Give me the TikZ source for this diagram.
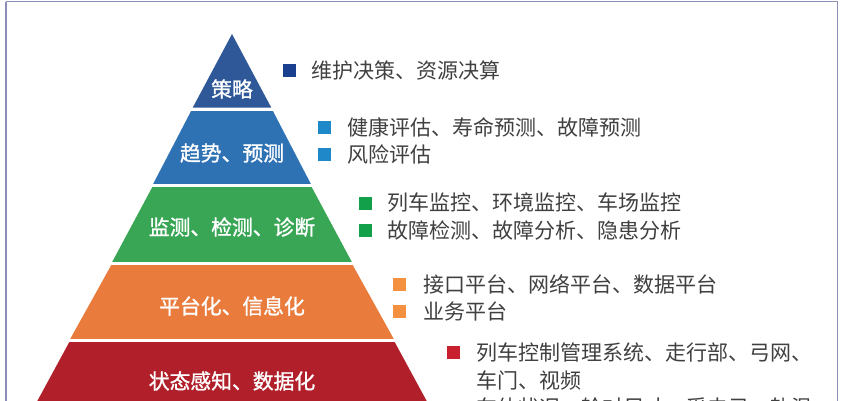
\documentclass[tikz,border=0pt]{standalone}
\usepackage{fontspec}
\newfontfamily\cjk{Noto Sans CJK SC}
\newfontfamily\cjkb{Noto Sans CJK SC}[FakeBold=1.2]
\definecolor{frame}{HTML}{8A90B8}
\definecolor{lay1}{HTML}{2E5897}
\definecolor{lay2}{HTML}{2F72B4}
\definecolor{lay3}{HTML}{39A655}
\definecolor{lay4}{HTML}{E97B3D}
\definecolor{lay5}{HTML}{B01F2A}
\definecolor{bul1}{HTML}{1B3F8F}
\definecolor{bul2}{HTML}{1E88C9}
\definecolor{bul3}{HTML}{12A04B}
\definecolor{bul4}{HTML}{F39140}
\definecolor{bul5}{HTML}{C8202E}
\definecolor{txt}{HTML}{404040}
\tikzset{
  lab/.style={text=white,font=\cjkb\fontsize{20.8}{23}\selectfont,inner sep=0pt},
  item/.style={text=txt,font=\cjk\fontsize{21}{29}\selectfont,anchor=west,inner sep=0pt},
  bullet/.style={minimum size=13pt,inner sep=0pt,fill=#1,draw=none},
  sep/.style={white,line width=3pt}
}
\begin{document}
\begin{tikzpicture}[x=1pt,y=-1pt]
\useasboundingbox (0,0) rectangle (848,400);
\clip (0,0) rectangle (848,400);
\fill[white] (0,0) rectangle (848,400);
\draw[frame,line width=1.6pt] (6,1.5) -- (837.5,1.5) -- (837.5,450);
\draw[frame,line width=1.6pt] (6,1.5) -- (6,450);
% pyramid layers (half width = 0.533*(y-34))
\fill[lay1] (232,34) -- (271.2,107.5) -- (192.8,107.5) -- cycle;
\fill[lay2] (192.4,108.5) -- (271.6,108.5) -- (311.0,184.2) -- (153.0,184.2) -- cycle;
\fill[lay3] (152.6,186.5) -- (311.4,186.5) -- (352.0,262.3) -- (112.0,262.3) -- cycle;
\fill[lay4] (111.6,264.5) -- (352.4,264.5) -- (394.0,339.3) -- (70.0,339.3) -- cycle;
\fill[lay5] (69.6,341.5) -- (394.4,341.5) -- (437.0,420) -- (27.0,420) -- cycle;
\draw[sep] (185,109.5) -- (279,109.5);
\draw[sep] (145,185.5) -- (319,185.5);
\draw[sep] (104,263.5) -- (360,263.5);
\draw[sep] (62,340.5) -- (402,340.5);
% layer labels
\node[lab] (l1) at (232,89) {策略};
\node[lab] (l2) at (232,153) {趋势、预测};
\node[lab] (l3) at (232,227) {监测、检测、诊断};
\node[lab] (l4) at (232,306) {平台化、信息化};
\node[lab] (l5) at (232,381) {状态感知、数据化};
% items
\node[bullet=bul1] (b11) at (289.5,70) {};
\node[item] (t11) at (311,70) {维护决策、资源决算};
\node[bullet=bul2] (b21) at (324.5,127) {};
\node[item] (t21) at (347,127) {健康评估、寿命预测、故障预测};
\node[bullet=bul2] (b22) at (324.5,154) {};
\node[item] (t22) at (347,154) {风险评估};
\node[bullet=bul3] (b31) at (365,203) {};
\node[item] (t31) at (387,203) {列车监控、环境监控、车场监控};
\node[bullet=bul3] (b32) at (365,230.5) {};
\node[item] (t32) at (387,230.5) {故障检测、故障分析、隐患分析};
\node[bullet=bul4] (b41) at (399.5,284.5) {};
\node[item] (t41) at (423,284.5) {接口平台、网络平台、数据平台};
\node[bullet=bul4] (b42) at (399.5,311) {};
\node[item] (t42) at (423,311) {业务平台};
\node[bullet=bul5] (b51) at (453.5,352.5) {};
\node[item] (t51) at (476,352.5) {列车控制管理系统、走行部、弓网、};
\node[item] (t52) at (476,380) {车门、视频};
\node[bullet=bul5] (b53) at (453.5,407) {};
\node[item] (t53) at (476,407) {车体状况、轮对尺寸、受电弓、轨温};
\end{tikzpicture}
\end{document}
